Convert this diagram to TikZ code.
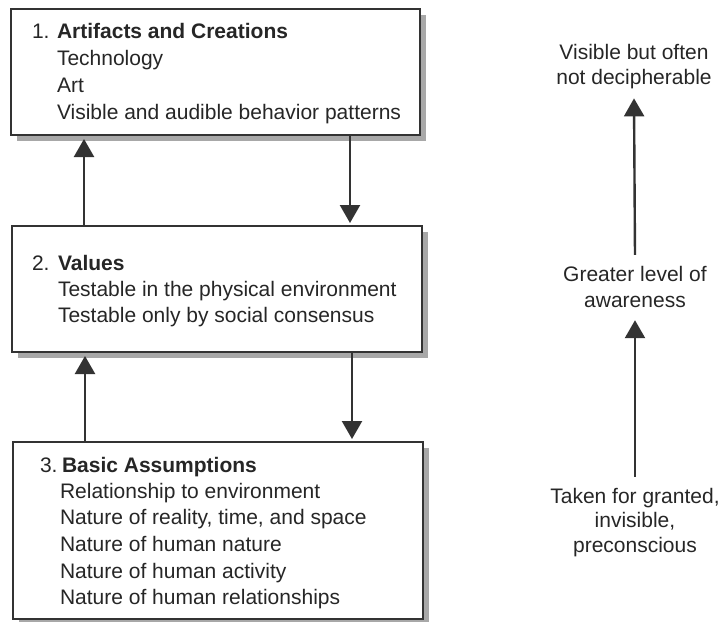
\documentclass[tikz,border=0pt]{standalone}
\usepackage{fontspec}
\setmainfont{Liberation Sans}
\usetikzlibrary{arrows.meta,shadows}
\definecolor{ink}{HTML}{333333}
\definecolor{textink}{HTML}{262626}
\definecolor{shade}{HTML}{A8A8A8}
\tikzset{
  layerbox/.style={draw=ink, line width=2.2pt, fill=white, inner sep=0pt, outer sep=0pt,
    anchor=north west,
    drop shadow={shadow xshift=6pt, shadow yshift=-6pt, fill=shade, opacity=1}},
  txt/.style={anchor=base west, inner sep=0pt, outer sep=0pt, text=textink,
    font=\fontsize{21}{25}\selectfont},
  ctxt/.style={txt, anchor=base},
  arr/.style={draw=ink, line width=2.4pt, -{Triangle[width=20pt,length=18pt]}},
}
\begin{document}
\begin{tikzpicture}[x=1pt,y=-1pt]
\useasboundingbox (0,0) rectangle (724,622);
% boxes
\node[layerbox, minimum width=409pt, minimum height=126pt] (b1) at (11,9) {};
\node[layerbox, minimum width=410pt, minimum height=126pt] (b2) at (12,226) {};
\node[layerbox, minimum width=410pt, minimum height=177pt] (b3) at (13,442) {};
% box 1 text
\node[txt] (n1) at (32,38) {1.};
\node[txt] (h1) at (57,38) {\textbf{Artifacts and Creations}};
\node[txt] (l11) at (57,65) {Technology};
\node[txt] (l12) at (57,92) {Art};
\node[txt] (l13) at (57,119) {Visible and audible behavior patterns};
% box 2 text
\node[txt] (n2) at (32,270) {2.};
\node[txt] (h2) at (58,270) {\textbf{Values}};
\node[txt] (l21) at (58,296) {Testable in the physical environment};
\node[txt] (l22) at (58,322) {Testable only by social consensus};
% box 3 text
\node[txt] (n3) at (40,472) {3.};
\node[txt] (h3) at (62,472) {\textbf{Basic Assumptions}};
\node[txt] (l31) at (60,498) {Relationship to environment};
\node[txt] (l32) at (60,524) {Nature of reality, time, and space};
\node[txt] (l33) at (60,551) {Nature of human nature};
\node[txt] (l34) at (60,578) {Nature of human activity};
\node[txt] (l35) at (60,604) {Nature of human relationships};
% arrows between boxes
\draw[arr] ([xshift=72pt]b2.north west) -- ([xshift=73pt,yshift=-4pt]b1.south west);
\draw[arr] ([xshift=339pt]b1.south west) -- ([xshift=338pt,yshift=3pt]b2.north west);
\draw[arr] ([xshift=72pt]b3.north west) -- ([xshift=73pt,yshift=-4pt]b2.south west);
\draw[arr] ([xshift=340pt]b2.south west) -- ([xshift=339pt,yshift=3pt]b3.north west);
% right column
\node[ctxt] (v1) at (634,59) {Visible but often};
\node[ctxt] (v2) at (634,84) {not decipherable};
\node[ctxt] (g1) at (635,281) {Greater level of};
\node[ctxt] (g2) at (635,307) {awareness};
\node[ctxt] (t1) at (635,503) {Taken for granted,};
\node[ctxt] (t2) at (635,527) {invisible,};
\node[ctxt] (t3) at (635,552) {preconscious};
\draw[arr] ([yshift=11pt]g1.north) -- ([yshift=-10pt]v2.south);
\draw[arr] ([yshift=11pt]t1.north) -- ([yshift=-13pt]g2.south);
\end{tikzpicture}
\end{document}
